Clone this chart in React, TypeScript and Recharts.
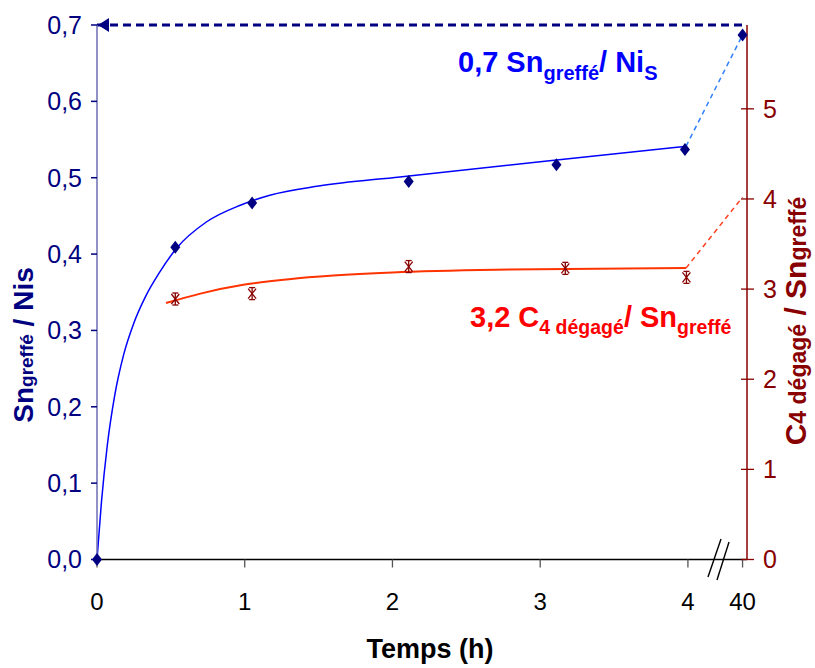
import { ComposedChart, Line, XAxis, YAxis, ReferenceLine, ReferenceDot, Customized } from "recharts"

const FONT = "'Liberation Sans', Arial, sans-serif"
const NAVY = "#000080"
const DARK_RED = "#880000"
const BLUE = "#0000ff"
const RED = "#ff0000"

// the 40 h point sits just after the axis break
const BREAK_POS = 4.37
const toAxis = (t: number) => (t > 4.5 ? BREAK_POS : t)

const xTicks = [0, 1, 2, 3, 4, 40]
const leftTicks = [0, 0.1, 0.2, 0.3, 0.4, 0.5, 0.6, 0.7]
const rightTicks = [0, 1, 2, 3, 4, 5]

// Sn greffé / Ni s (left axis)
const snTimes = [0, 0.53, 1.05, 2.11, 3.11, 3.98, 40]
const snValues = [0, 0.409, 0.467, 0.495, 0.517, 0.537, 0.687]

// fitted curve
const snFitTimes = [0, 0.03, 0.07, 0.12, 0.18, 0.25, 0.33, 0.42, 0.54, 0.74, 0.97, 1.17, 1.5, 2.05, 3.0, 3.987]
const snFitValues = [0, 0.075, 0.15, 0.215, 0.268, 0.31, 0.345, 0.375, 0.408, 0.442, 0.464, 0.477, 0.489, 0.501, 0.521, 0.541]
const snJumpTimes = [3.987, 40]
const snJumpValues = [0.541, 0.687]

// C4 dégagé / Sn greffé (right axis)
const c4Times = [0.53, 1.05, 2.11, 3.17, 3.99]
const c4Values = [2.89, 2.95, 3.25, 3.23, 3.13]

const c4FitTimes = [0.467, 0.7, 1.0, 1.3, 1.6, 2.0, 2.7, 3.987]
const c4FitValues = [2.845, 2.95, 3.05, 3.11, 3.15, 3.185, 3.215, 3.233]
const c4JumpTimes = [3.987, 40]
const c4JumpValues = [3.233, 4.02]

const toRows = (ts: number[], vs: number[]) => ts.map((t, i) => ({ t: toAxis(t), v: vs[i] }))

function Diamond(props: any) {
  const { cx, cy, index } = props
  if (cx == null || cy == null) return <g key={index} />
  return (
    <path
      key={index}
      d={`M${cx},${cy - 6.5} L${cx + 5},${cy} L${cx},${cy + 6.5} L${cx - 5},${cy} Z`}
      fill={NAVY}
    />
  )
}

function Asterisk(props: any) {
  const { cx, cy, index } = props
  if (cx == null || cy == null) return <g key={index} />
  return (
    <g key={index} stroke={DARK_RED} strokeWidth={1.3} fill="none">
      <line x1={cx} y1={cy - 6} x2={cx} y2={cy + 6} />
      <line x1={cx - 4} y1={cy - 5} x2={cx + 4} y2={cy + 5} />
      <line x1={cx + 4} y1={cy - 5} x2={cx - 4} y2={cy + 5} />
      <line x1={cx - 3} y1={cy - 6} x2={cx + 3} y2={cy - 6} />
      <line x1={cx - 3} y1={cy + 6} x2={cx + 3} y2={cy + 6} />
    </g>
  )
}

function Arrow(props: any) {
  const { cx, cy } = props
  return <polygon points={`${cx + 1},${cy} ${cx + 12},${cy - 7} ${cx + 12},${cy + 7}`} fill={NAVY} />
}

// right axis ticks cross the axis line
function RightTick(props: any) {
  const { x, y, payload } = props
  const ax = x - 16
  return (
    <g>
      <line x1={ax - 6} y1={y} x2={ax + 7} y2={y} stroke={DARK_RED} strokeWidth={1.3} />
      <text x={x} y={y} dy="0.355em" fill={DARK_RED} fontSize={25} fontFamily={FONT}>
        {payload.value}
      </text>
    </g>
  )
}

function Texts() {
  return (
    <g fontFamily={FONT} fontWeight="bold">
      <text x={458} y={72} fill={BLUE} fontSize={29}>
        0,7 Sn
        <tspan fontSize={20} dy={8}>greffé</tspan>
        <tspan dy={-8}>/ Ni</tspan>
        <tspan fontSize={20} dy={8}>S</tspan>
      </text>
      <text x={470} y={327} fill={RED} fontSize={29}>
        3,2 C
        <tspan fontSize={19.5} dy={7}>4 dégagé</tspan>
        <tspan dy={-7}>/ Sn</tspan>
        <tspan fontSize={19.5} dy={7}>greffé</tspan>
      </text>
      <text x={430} y={658} fill="#000" fontSize={27} textAnchor="middle">
        Temps (h)
      </text>
      <text transform="translate(33,345) rotate(-90)" fill={NAVY} fontSize={28} textAnchor="middle">
        Sn<tspan fontSize={19}>greffé</tspan> / Nis
      </text>
      <text transform="translate(806,321) rotate(-90)" fill={DARK_RED} fontSize={30} textAnchor="middle">
        C<tspan fontSize={23}>4 dégagé</tspan> / Sn<tspan fontSize={23}>greffé</tspan>
      </text>
      <g stroke="#000" strokeWidth={1.4}>
        <line x1={721} y1={539} x2={708} y2={577} />
        <line x1={729} y1={542} x2={717} y2={580} />
      </g>
    </g>
  )
}

export default function App() {
  return (
    <div style={{ position: "absolute", left: 0, top: 0, width: 815, height: 668, background: "#fff" }}>
      <ComposedChart width={815} height={668} margin={{ top: 25, right: 0, bottom: 0, left: 0 }}>
        <XAxis
          type="number"
          dataKey="t"
          domain={[0, 4.4]}
          ticks={xTicks.map(toAxis)}
          tickFormatter={(v: number) => (v === BREAK_POS ? "40" : String(v))}
          height={108.5}
          stroke="#000"
          strokeWidth={1.3}
          tickSize={8}
          tickMargin={25}
          tickLine={{ stroke: "#555" }}
          tick={{ fontSize: 24, fill: "#000", fontFamily: FONT }}
        />
        <YAxis
          yAxisId="left"
          domain={[0, 0.7]}
          ticks={leftTicks}
          tickFormatter={(v: number) => v.toFixed(1).replace(".", ",")}
          width={97}
          stroke="#6c6cb4"
          strokeWidth={1.5}
          tickSize={6}
          tickMargin={9}
          tickLine={{ stroke: NAVY }}
          tick={{ fontSize: 25, fill: NAVY, fontFamily: FONT }}
        />
        <YAxis
          yAxisId="right"
          orientation="right"
          domain={[0, 5.93]}
          ticks={rightTicks}
          width={68}
          stroke={DARK_RED}
          strokeWidth={1.5}
          tickSize={7}
          tickMargin={9}
          tickLine={false}
          tick={RightTick}
        />
        <ReferenceLine yAxisId="left" y={0.7} stroke={NAVY} strokeWidth={3} strokeDasharray="8 5" />
        <ReferenceDot yAxisId="left" x={0} y={0.7} r={6} shape={Arrow} />
        <Line
          yAxisId="left"
          data={toRows(snFitTimes, snFitValues)}
          dataKey="v"
          type="monotone"
          stroke={BLUE}
          strokeWidth={1.5}
          dot={false}
          activeDot={false}
          isAnimationActive={false}
        />
        <Line
          yAxisId="left"
          data={toRows(snJumpTimes, snJumpValues)}
          dataKey="v"
          type="linear"
          stroke="#2f80ff"
          strokeWidth={1.5}
          strokeDasharray="5 4"
          dot={false}
          activeDot={false}
          isAnimationActive={false}
        />
        <Line
          yAxisId="right"
          data={toRows(c4FitTimes, c4FitValues)}
          dataKey="v"
          type="monotone"
          stroke="#ff3300"
          strokeWidth={2}
          dot={false}
          activeDot={false}
          isAnimationActive={false}
        />
        <Line
          yAxisId="right"
          data={toRows(c4JumpTimes, c4JumpValues)}
          dataKey="v"
          type="linear"
          stroke="#ff4020"
          strokeWidth={1.5}
          strokeDasharray="5 4"
          dot={false}
          activeDot={false}
          isAnimationActive={false}
        />
        <Line
          yAxisId="left"
          data={toRows(snTimes, snValues)}
          dataKey="v"
          stroke="none"
          dot={Diamond}
          activeDot={false}
          isAnimationActive={false}
        />
        <Line
          yAxisId="right"
          data={toRows(c4Times, c4Values)}
          dataKey="v"
          stroke="none"
          dot={Asterisk}
          activeDot={false}
          isAnimationActive={false}
        />
        <Customized component={Texts} />
      </ComposedChart>
    </div>
  )
}
